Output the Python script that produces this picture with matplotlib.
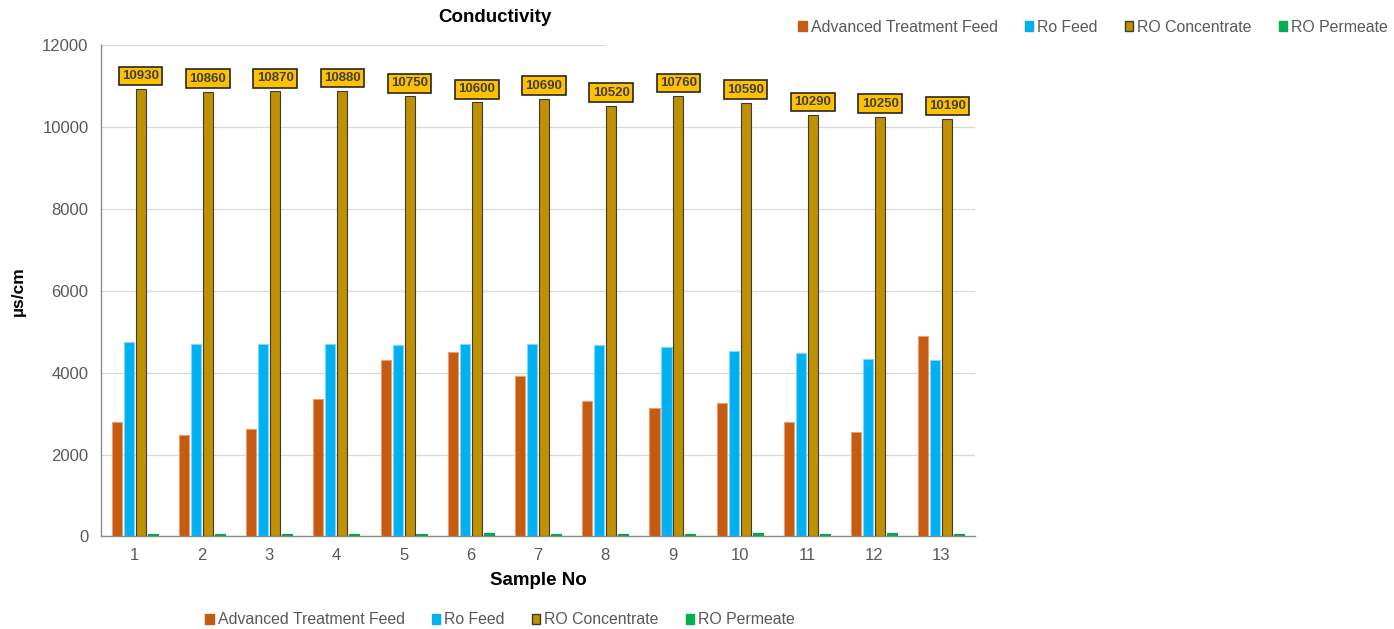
import matplotlib.pyplot as plt
import numpy as np
from matplotlib.patches import Patch, Rectangle

plt.rcParams["font.family"] = ["Liberation Sans", "DejaVu Sans"]

samples = [str(i) for i in range(1, 14)]
series_names = ["Advanced Treatment Feed", "Ro Feed", "RO Concentrate", "RO Permeate"]
advanced_feed = [2790, 2470, 2630, 3350, 4310, 4500, 3930, 3310, 3130, 3250, 2790, 2550, 4900]
ro_feed = [4760, 4710, 4710, 4710, 4680, 4710, 4690, 4670, 4630, 4530, 4470, 4340, 4310]
ro_concentrate = [10930, 10860, 10870, 10880, 10750, 10600, 10690, 10520, 10760, 10590, 10290, 10250, 10190]
ro_permeate = [70, 50, 70, 50, 70, 85, 50, 70, 55, 85, 70, 85, 70]

colors = ["#C55A11", "#00B0F0", "#BF9000", "#00B050"]
edges = ["#E8A070", "#7FD8F8", "#3A3A3A", "#00A048"]
tick_color = "#595959"

fig = plt.figure(figsize=(13.94, 6.29), dpi=100)
ax = fig.add_axes([0.0725, 0.1471, 0.6269, 0.7814])

x = np.arange(len(samples))
pitch = 0.178
width = 0.15
all_series = [advanced_feed, ro_feed, ro_concentrate, ro_permeate]
for i, (vals, c, ec) in enumerate(zip(all_series, colors, edges)):
    offs = (i - 1.5) * pitch
    ax.bar(x + offs, vals, width, color=c, edgecolor=ec, linewidth=0.8, zorder=3)

# value boxes on the concentrate bars
conc_x = x + 0.5 * pitch
for xi, v in zip(conc_x, ro_concentrate):
    ax.annotate(f"{v}", (xi, v), xytext=(0, 5), textcoords="offset points",
                ha="center", va="bottom", fontsize=9.5, fontweight="bold", color="#404040",
                bbox=dict(boxstyle="square,pad=0.25", fc="#FFC000", ec="#262626", lw=1.2),
                zorder=5)

ax.set_xlim(-0.5, len(samples) - 0.5)
ax.set_ylim(0, 12000)
ax.set_yticks(np.arange(0, 12001, 2000))
ax.set_xticks(x)
ax.set_xticklabels(samples)
ax.tick_params(axis="both", length=0, labelsize=12, labelcolor=tick_color)
ax.tick_params(axis="y", pad=9)
ax.tick_params(axis="x", pad=8)
ax.grid(axis="y", color="#D9D9D9", lw=0.9, zorder=0)
ax.set_axisbelow(True)
for side in ("top", "right"):
    ax.spines[side].set_visible(False)
for side in ("left", "bottom"):
    ax.spines[side].set_color("#8C8C8C")
    ax.spines[side].set_linewidth(1.0)

ax.set_xlabel("Sample No", fontsize=13.5, fontweight="bold", labelpad=7)
ax.set_ylabel("µs/cm", fontsize=12.5, fontweight="bold")
ax.yaxis.set_label_coords((26 - 101) / 874, 0.5)
fig.text(495 / 1394, 1 - 17 / 629, "Conductivity", ha="center", va="center",
         fontsize=13.5, fontweight="bold")

# plain white strip behind the upper legend
fig.patches.append(Rectangle((606 / 1394, 1 - 52 / 629), 1, 52 / 629,
                             transform=fig.transFigure, fc="white", ec="none", zorder=10))

handles = [Patch(facecolor=c, edgecolor=("#3A3A3A" if n == "RO Concentrate" else c))
           for c, n in zip(colors, series_names)]
legend_kw = dict(ncol=4, frameon=False, fontsize=11.4, labelcolor=tick_color,
                 handlelength=0.55, handleheight=0.55, handletextpad=0.25,
                 columnspacing=1.7, borderpad=0)
top_leg = fig.legend(handles, series_names, loc="center",
                     bbox_to_anchor=(1093 / 1394, 1 - 27 / 629), **legend_kw)
top_leg.set_zorder(11)
fig.legend(handles, series_names, loc="center",
           bbox_to_anchor=(500 / 1394, 1 - 620 / 629), **legend_kw)

fig.savefig("out.png", dpi=100)
